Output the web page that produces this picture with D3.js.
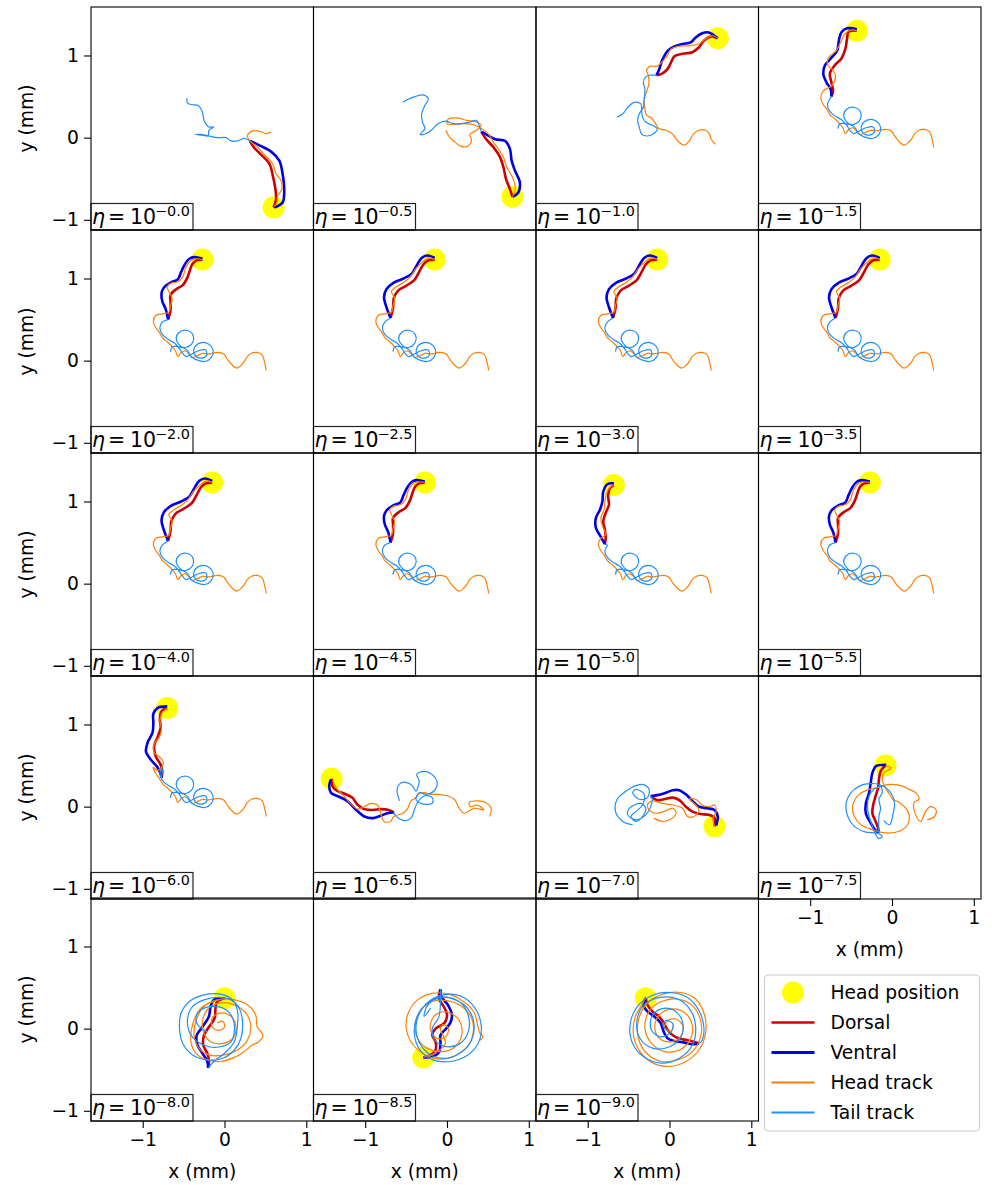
<!DOCTYPE html>
<html>
<head>
<meta charset="utf-8">
<script src="https://cdn.jsdelivr.net/npm/d3@7"></script>
<style>
  body { margin: 0; background: #fff; }
  text { font-family: "DejaVu Sans", sans-serif; }
</style>
</head>
<body>
<svg id="chart" width="992" height="1185"></svg>
<script>
///// *** DATA (mm) *** /////
var etaExps = ['0.0','0.5','1.0','1.5','2.0','2.5','3.0','3.5','4.0','4.5','5.0','5.5','6.0','6.5','7.0','7.5','8.0','8.5','9.0'];
var xTicks = [-1, 0, 1],
    yTicks = [-1, 0, 1];
var legendLabels = ['Head position', 'Dorsal', 'Ventral', 'Head track', 'Tail track'];

// eta = 10^-0.0
var dorsal_00 = [[0.60,-0.85],[0.63,-0.75],[0.62,-0.61],[0.59,-0.46],[0.55,-0.32],[0.44,-0.20],[0.36,-0.12],[0.31,-0.04]];
var ventral_00 = [[0.61,-0.85],[0.71,-0.79],[0.73,-0.65],[0.71,-0.44],[0.67,-0.28],[0.57,-0.17],[0.44,-0.10],[0.36,-0.06],[0.31,-0.04]];
var headTrack_00 = [[0.57,0.07],[0.51,0.05],[0.42,0.08],[0.34,0.08],[0.28,0.02],[0.31,-0.04],[0.40,-0.11],[0.48,-0.20],[0.59,-0.32],[0.63,-0.44],[0.69,-0.52],[0.70,-0.63],[0.65,-0.71],[0.64,-0.79],[0.61,-0.84]];
var tailTrack_00 = [[-0.46,0.48],[-0.45,0.42],[-0.39,0.40],[-0.32,0.39],[-0.27,0.31],[-0.25,0.21],[-0.19,0.13],[-0.13,0.13],[-0.19,0.09],[-0.20,0.02],[-0.27,0.03],[-0.36,0.04],[-0.29,0.04],[-0.19,0.02],[-0.09,0.00],[0.02,0.00],[0.08,-0.04],[0.16,-0.04],[0.24,-0.01],[0.31,-0.04]];

// eta = 10^-0.5
var dorsal_05 = [[0.80,-0.72],[0.77,-0.63],[0.72,-0.50],[0.69,-0.36],[0.65,-0.24],[0.57,-0.12],[0.48,-0.02],[0.42,0.07]];
var ventral_05 = [[0.80,-0.72],[0.87,-0.67],[0.89,-0.54],[0.83,-0.40],[0.79,-0.28],[0.77,-0.14],[0.71,-0.04],[0.59,-0.02],[0.48,0.04],[0.42,0.07]];
var headTrack_05 = [[-0.01,0.09],[0.02,0.02],[0.08,-0.04],[0.16,-0.10],[0.24,-0.11],[0.30,-0.04],[0.28,0.04],[0.36,0.09],[0.42,0.15],[0.36,0.19],[0.24,0.21],[0.12,0.24],[0.02,0.23],[0.00,0.17],[0.08,0.16],[0.20,0.17],[0.32,0.16],[0.42,0.11],[0.51,0.04],[0.57,-0.06],[0.63,-0.14],[0.69,-0.24],[0.73,-0.36],[0.79,-0.46],[0.83,-0.57],[0.83,-0.65],[0.80,-0.72]];
var tailTrack_05 = [[-0.54,0.43],[-0.47,0.47],[-0.39,0.50],[-0.29,0.52],[-0.23,0.47],[-0.27,0.39],[-0.31,0.29],[-0.30,0.19],[-0.27,0.11],[-0.33,0.04],[-0.25,0.05],[-0.17,0.11],[-0.11,0.17],[-0.02,0.20],[0.08,0.17],[0.18,0.17],[0.28,0.19],[0.36,0.21],[0.40,0.13],[0.42,0.07]];

// eta = 10^-1.0
var dorsal_10 = [[0.59,1.21],[0.51,1.23],[0.42,1.18],[0.36,1.10],[0.28,1.04],[0.16,1.02],[0.06,0.99],[0.02,0.92],[-0.02,0.84],[-0.09,0.78],[-0.16,0.76]];
var ventral_10 = [[0.59,1.21],[0.48,1.28],[0.40,1.27],[0.32,1.22],[0.26,1.16],[0.16,1.14],[0.06,1.11],[-0.02,1.06],[-0.09,0.94],[-0.13,0.82],[-0.16,0.76]];
var headTrack_10 = [[0.56,-0.08],[0.51,-0.02],[0.49,0.04],[0.44,0.09],[0.36,0.09],[0.29,0.04],[0.25,-0.03],[0.18,-0.09],[0.10,-0.04],[0.04,0.04],[-0.04,0.09],[-0.13,0.11],[-0.17,0.17],[-0.22,0.24],[-0.28,0.27],[-0.30,0.35],[-0.31,0.45],[-0.29,0.53],[-0.27,0.59],[-0.25,0.67],[-0.26,0.76],[-0.28,0.82],[-0.23,0.87],[-0.15,0.87],[-0.04,0.98],[0.02,1.08],[0.10,1.11],[0.24,1.12],[0.36,1.14],[0.44,1.20],[0.53,1.24],[0.59,1.21]];
var tailTrack_10 = [[-0.64,0.25],[-0.57,0.29],[-0.51,0.37],[-0.43,0.43],[-0.35,0.41],[-0.34,0.33],[-0.33,0.25],[-0.29,0.19],[-0.21,0.15],[-0.15,0.11],[-0.19,0.05],[-0.27,0.02],[-0.34,0.04],[-0.37,0.13],[-0.39,0.21],[-0.37,0.29],[-0.32,0.37],[-0.31,0.47],[-0.30,0.59],[-0.32,0.67],[-0.29,0.74],[-0.23,0.76],[-0.16,0.76]];

// shared track history for eta = 10^-1.5 ... 10^-6.0
var baseHeadTrack = [[0.51,-0.12],[0.49,-0.02],[0.46,0.07],[0.40,0.10],[0.33,0.09],[0.27,0.04],[0.25,0.00],[0.20,-0.06],[0.15,-0.09],[0.10,-0.06],[0.04,0.01],[-0.01,0.08],[-0.08,0.10],[-0.15,0.09],[-0.21,0.08],[-0.27,0.09],[-0.33,0.06],[-0.39,0.04],[-0.43,0.08],[-0.48,0.12],[-0.53,0.10],[-0.57,0.05],[-0.60,0.12],[-0.64,0.17],[-0.70,0.23],[-0.76,0.28],[-0.80,0.35],[-0.84,0.40],[-0.87,0.48]];
var baseTailTrack = [[-0.66,0.11],[-0.64,0.17],[-0.57,0.17],[-0.47,0.16],[-0.39,0.22],[-0.39,0.32],[-0.47,0.37],[-0.56,0.34],[-0.59,0.26],[-0.54,0.18],[-0.45,0.12],[-0.41,0.05],[-0.34,0.01],[-0.24,-0.01],[-0.16,0.04],[-0.14,0.13],[-0.19,0.20],[-0.28,0.22],[-0.36,0.17],[-0.37,0.08],[-0.30,0.03],[-0.22,0.06],[-0.23,0.13],[-0.32,0.12],[-0.40,0.08],[-0.47,0.05],[-0.52,0.10],[-0.56,0.16],[-0.62,0.22],[-0.69,0.26],[-0.76,0.32],[-0.79,0.40],[-0.76,0.47]];

// body shape seen at eta = 10^-1.5
var dorsal_B = [[-0.43,1.30],[-0.53,1.29],[-0.55,1.20],[-0.57,1.08],[-0.62,0.96],[-0.70,0.88],[-0.76,0.78],[-0.74,0.67],[-0.72,0.57],[-0.74,0.50]];
var ventral_B = [[-0.43,1.32],[-0.55,1.33],[-0.62,1.28],[-0.65,1.18],[-0.67,1.06],[-0.75,0.96],[-0.82,0.88],[-0.84,0.78],[-0.80,0.67],[-0.75,0.59],[-0.74,0.50]];
var headEnd_B = [[-0.84,0.57],[-0.74,0.63],[-0.69,0.74],[-0.72,0.82],[-0.79,0.89],[-0.77,0.98],[-0.68,1.06],[-0.62,1.18],[-0.57,1.27],[-0.49,1.31],[-0.43,1.30]];

// body shape seen at eta = 10^-2.0, 10^-4.5, 10^-5.5
var dorsal_A = [[-0.27,1.23],[-0.34,1.22],[-0.39,1.18],[-0.42,1.11],[-0.45,1.02],[-0.51,0.92],[-0.59,0.87],[-0.66,0.80],[-0.66,0.72],[-0.66,0.61],[-0.69,0.50]];
var ventral_A = [[-0.27,1.24],[-0.37,1.26],[-0.43,1.24],[-0.48,1.18],[-0.53,1.08],[-0.57,0.99],[-0.66,0.95],[-0.74,0.89],[-0.77,0.82],[-0.76,0.72],[-0.72,0.63],[-0.69,0.50]];
var headEnd_A = [[-0.84,0.55],[-0.76,0.57],[-0.68,0.59],[-0.66,0.67],[-0.64,0.76],[-0.68,0.84],[-0.70,0.90],[-0.66,0.94],[-0.57,0.96],[-0.51,1.02],[-0.47,1.14],[-0.41,1.22],[-0.33,1.24],[-0.27,1.23]];

// body shape seen at eta = 10^-2.5 ... 10^-4.0
var dorsal_E = [[-0.15,1.23],[-0.23,1.22],[-0.29,1.17],[-0.34,1.08],[-0.40,0.98],[-0.50,0.91],[-0.60,0.85],[-0.65,0.76],[-0.66,0.64],[-0.69,0.52]];
var ventral_E = [[-0.15,1.25],[-0.24,1.28],[-0.31,1.25],[-0.37,1.16],[-0.43,1.06],[-0.53,1.00],[-0.65,0.95],[-0.74,0.87],[-0.77,0.77],[-0.74,0.65],[-0.69,0.52]];
var headEnd_E = [[-0.84,0.55],[-0.76,0.57],[-0.68,0.59],[-0.66,0.67],[-0.64,0.76],[-0.68,0.84],[-0.62,0.90],[-0.53,0.95],[-0.45,1.02],[-0.38,1.12],[-0.30,1.20],[-0.22,1.25],[-0.15,1.23]];

// body shape seen at eta = 10^-5.0
var dorsal_C = [[-0.68,1.20],[-0.73,1.16],[-0.75,1.06],[-0.74,0.96],[-0.78,0.86],[-0.81,0.76],[-0.79,0.66],[-0.78,0.56],[-0.79,0.48]];
var ventral_C = [[-0.68,1.22],[-0.76,1.21],[-0.81,1.12],[-0.82,1.00],[-0.85,0.90],[-0.90,0.80],[-0.90,0.68],[-0.84,0.57],[-0.79,0.48]];
var headEnd_C = [[-0.84,0.55],[-0.78,0.60],[-0.82,0.70],[-0.84,0.80],[-0.80,0.90],[-0.79,1.00],[-0.77,1.10],[-0.72,1.18],[-0.68,1.20]];

// body shape seen at eta = 10^-6.0
var dorsal_D = [[-0.70,1.20],[-0.77,1.16],[-0.79,1.06],[-0.78,0.96],[-0.82,0.84],[-0.86,0.74],[-0.84,0.61],[-0.78,0.51],[-0.76,0.43],[-0.77,0.35]];
var ventral_D = [[-0.70,1.22],[-0.82,1.20],[-0.87,1.13],[-0.87,1.02],[-0.88,0.90],[-0.94,0.78],[-0.96,0.67],[-0.90,0.57],[-0.82,0.48],[-0.78,0.40],[-0.77,0.35]];
var headEnd_D = [[-0.82,0.44],[-0.76,0.49],[-0.75,0.55],[-0.80,0.61],[-0.86,0.66],[-0.86,0.76],[-0.80,0.84],[-0.77,0.94],[-0.79,1.04],[-0.77,1.13],[-0.70,1.20]];

// eta = 10^-6.5
var dorsal_65 = [[-1.41,0.34],[-1.40,0.25],[-1.34,0.19],[-1.26,0.16],[-1.16,0.11],[-1.09,0.02],[-1.01,-0.03],[-0.91,-0.04],[-0.81,-0.03],[-0.71,-0.04],[-0.65,-0.07]];
var ventral_65 = [[-1.42,0.33],[-1.44,0.25],[-1.42,0.17],[-1.32,0.12],[-1.22,0.07],[-1.11,-0.04],[-1.01,-0.12],[-0.91,-0.14],[-0.81,-0.11],[-0.73,-0.08],[-0.65,-0.07]];
var headTrack_65 = [[0.52,-0.12],[0.54,-0.02],[0.47,0.05],[0.39,0.07],[0.27,0.05],[0.29,0.00],[0.37,0.02],[0.45,-0.04],[0.33,-0.02],[0.21,-0.08],[0.15,-0.02],[0.09,0.09],[0.01,0.13],[-0.12,0.15],[-0.20,0.15],[-0.28,0.17],[-0.34,0.16],[-0.38,0.11],[-0.44,0.07],[-0.48,-0.02],[-0.54,-0.08],[-0.65,-0.12],[-0.69,-0.18],[-0.77,-0.18],[-0.81,-0.08],[-0.85,0.02],[-0.93,0.04],[-1.01,0.00],[-1.09,-0.03],[-1.18,0.04],[-1.26,0.13],[-1.34,0.21],[-1.40,0.32]];
var tailTrack_65 = [[-0.58,0.07],[-0.61,0.21],[-0.56,0.29],[-0.48,0.29],[-0.42,0.25],[-0.38,0.19],[-0.34,0.31],[-0.37,0.39],[-0.28,0.43],[-0.18,0.39],[-0.12,0.29],[-0.16,0.19],[-0.26,0.15],[-0.34,0.17],[-0.38,0.09],[-0.32,0.04],[-0.18,0.04],[-0.18,0.11],[-0.28,0.13],[-0.36,0.05],[-0.40,-0.04],[-0.44,-0.14],[-0.52,-0.17],[-0.63,-0.11],[-0.65,-0.07]];

// eta = 10^-7.0
var dorsal_70 = [[0.55,-0.24],[0.55,-0.14],[0.48,-0.10],[0.38,-0.09],[0.28,-0.06],[0.20,0.00],[0.12,0.08],[0.04,0.11],[-0.07,0.09],[-0.15,0.08],[-0.23,0.13]];
var ventral_70 = [[0.57,-0.23],[0.59,-0.12],[0.55,-0.04],[0.46,-0.02],[0.36,0.00],[0.28,0.07],[0.20,0.15],[0.12,0.20],[0.04,0.20],[-0.07,0.16],[-0.15,0.14],[-0.23,0.13]];
var headTrack_70 = [[-0.19,-0.14],[-0.09,-0.18],[0.00,-0.16],[0.08,-0.08],[0.04,-0.02],[-0.07,-0.06],[-0.17,-0.08],[-0.25,-0.04],[-0.27,0.02],[-0.21,0.07],[-0.09,0.04],[0.04,0.02],[0.16,-0.02],[0.22,-0.12],[0.30,-0.12],[0.36,-0.04],[0.30,0.04],[0.24,0.09],[0.32,0.09],[0.40,0.02],[0.48,0.00],[0.55,0.02],[0.57,-0.06],[0.53,-0.14],[0.55,-0.24]];
var tailTrack_70 = [[-0.45,-0.22],[-0.57,-0.18],[-0.66,-0.06],[-0.64,0.09],[-0.53,0.19],[-0.43,0.25],[-0.33,0.27],[-0.25,0.21],[-0.27,0.11],[-0.37,0.09],[-0.45,0.17],[-0.41,0.21],[-0.31,0.15],[-0.33,0.02],[-0.41,-0.06],[-0.47,-0.12],[-0.41,-0.18],[-0.33,-0.12],[-0.29,-0.02],[-0.35,0.04],[-0.49,-0.02],[-0.51,-0.10],[-0.41,-0.16],[-0.29,-0.10],[-0.23,0.00],[-0.21,0.09],[-0.23,0.13]];

// eta = 10^-7.5
var dorsal_75 = [[-0.08,0.50],[-0.14,0.43],[-0.16,0.33],[-0.17,0.23],[-0.20,0.13],[-0.23,0.02],[-0.24,-0.08],[-0.20,-0.18],[-0.17,-0.26],[-0.16,-0.32]];
var ventral_75 = [[-0.07,0.51],[-0.20,0.49],[-0.24,0.41],[-0.26,0.29],[-0.28,0.17],[-0.32,0.04],[-0.32,-0.08],[-0.26,-0.20],[-0.20,-0.29],[-0.16,-0.32]];
var headTrack_75 = [[0.43,-0.16],[0.52,-0.12],[0.54,-0.04],[0.47,0.00],[0.41,-0.06],[0.35,-0.18],[0.29,-0.10],[0.27,0.05],[0.33,0.09],[0.29,0.17],[0.21,0.21],[0.13,0.25],[-0.03,0.27],[-0.18,0.23],[-0.28,0.21],[-0.40,0.15],[-0.48,0.02],[-0.46,-0.12],[-0.38,-0.22],[-0.24,-0.28],[-0.08,-0.32],[0.09,-0.30],[0.19,-0.22],[0.21,-0.10],[0.17,-0.02],[0.09,0.05],[0.01,0.09],[-0.03,0.15],[-0.08,0.23],[-0.12,0.33],[-0.10,0.41],[-0.01,0.47],[-0.08,0.50]];
var tailTrack_75 = [[-0.10,-0.17],[-0.03,-0.22],[0.01,-0.10],[0.03,0.05],[-0.03,0.19],[-0.16,0.27],[-0.28,0.28],[-0.40,0.25],[-0.50,0.17],[-0.56,0.05],[-0.54,-0.12],[-0.46,-0.24],[-0.32,-0.31],[-0.20,-0.32],[-0.12,-0.36],[-0.16,-0.39],[-0.20,-0.34],[-0.24,-0.24],[-0.28,-0.12],[-0.30,0.00],[-0.28,0.13],[-0.22,0.21],[-0.14,0.25],[-0.12,0.17],[-0.16,0.09],[-0.14,-0.02],[-0.16,-0.12],[-0.16,-0.32]];

// eta = 10^-8.0
var dorsal_80 = [[0.00,0.37],[-0.09,0.33],[-0.11,0.25],[-0.12,0.13],[-0.19,0.02],[-0.25,-0.08],[-0.26,-0.20],[-0.21,-0.30],[-0.19,-0.40],[-0.20,-0.48]];
var ventral_80 = [[0.00,0.37],[-0.13,0.35],[-0.17,0.27],[-0.19,0.15],[-0.27,0.02],[-0.34,-0.08],[-0.33,-0.20],[-0.27,-0.30],[-0.21,-0.40],[-0.20,-0.48]];
var headTrack_80 = [[-0.09,0.07],[-0.02,0.09],[0.00,0.02],[-0.07,-0.02],[-0.15,0.02],[-0.15,0.13],[-0.05,0.19],[0.08,0.15],[0.14,0.02],[0.10,-0.12],[-0.02,-0.18],[-0.17,-0.16],[-0.25,-0.06],[-0.27,0.09],[-0.21,0.23],[-0.07,0.31],[0.12,0.29],[0.26,0.19],[0.32,0.05],[0.28,-0.14],[0.16,-0.26],[0.00,-0.32],[-0.19,-0.32],[-0.31,-0.24],[-0.37,-0.10],[-0.35,0.09],[-0.25,0.27],[-0.09,0.35],[0.12,0.35],[0.28,0.29],[0.38,0.17],[0.40,0.02],[0.47,-0.08],[0.42,-0.16],[0.34,-0.20],[0.24,-0.28],[0.12,-0.35],[-0.05,-0.40],[-0.21,-0.38],[-0.35,-0.30],[-0.41,-0.16],[-0.39,0.05],[-0.29,0.25],[-0.13,0.33],[0.00,0.37]];
var tailTrack_80 = [[-0.21,-0.04],[-0.33,0.05],[-0.34,0.17],[-0.25,0.25],[-0.11,0.27],[0.02,0.23],[0.10,0.13],[0.12,-0.04],[0.08,-0.16],[-0.05,-0.22],[-0.19,-0.22],[-0.33,-0.16],[-0.43,-0.04],[-0.45,0.13],[-0.39,0.27],[-0.25,0.35],[-0.07,0.38],[0.08,0.35],[0.18,0.25],[0.22,0.09],[0.20,-0.12],[0.12,-0.26],[-0.02,-0.36],[-0.21,-0.38],[-0.39,-0.32],[-0.51,-0.18],[-0.55,0.00],[-0.53,0.19],[-0.43,0.33],[-0.25,0.41],[-0.05,0.42],[0.10,0.35],[0.16,0.21],[0.16,0.05],[0.12,-0.16],[0.00,-0.30],[-0.13,-0.40],[-0.20,-0.48]];

// eta = 10^-8.5
var dorsal_85 = [[-0.29,-0.35],[-0.20,-0.32],[-0.14,-0.26],[-0.14,-0.16],[-0.18,-0.08],[-0.14,0.00],[-0.03,0.07],[0.00,0.17],[-0.04,0.27],[-0.10,0.37],[-0.08,0.48]];
var ventral_85 = [[-0.29,-0.35],[-0.18,-0.34],[-0.10,-0.29],[-0.08,-0.18],[-0.08,-0.08],[-0.03,-0.02],[0.04,0.07],[0.06,0.17],[0.01,0.29],[-0.07,0.39],[-0.08,0.48]];
var headTrack_85 = [[0.40,-0.14],[0.44,-0.10],[0.40,-0.05],[0.38,0.02],[0.33,0.20],[0.20,0.33],[0.02,0.42],[-0.18,0.43],[-0.36,0.35],[-0.47,0.20],[-0.50,0.02],[-0.44,-0.16],[-0.30,-0.30],[-0.10,-0.37],[0.10,-0.33],[0.25,-0.22],[0.32,-0.05],[0.30,0.13],[0.18,0.27],[0.00,0.34],[-0.18,0.33],[-0.32,0.22],[-0.39,0.05],[-0.36,-0.12],[-0.24,-0.24],[-0.06,-0.28],[0.10,-0.22],[0.18,-0.08],[0.16,0.08],[0.06,0.18],[-0.08,0.20],[-0.18,0.12],[-0.20,-0.02],[-0.12,-0.12],[-0.02,-0.10],[0.02,0.00],[-0.05,0.05],[-0.08,0.00],[-0.02,-0.18],[-0.15,-0.30],[-0.29,-0.35]];
var tailTrack_85 = [[-0.20,0.25],[-0.28,0.15],[-0.24,0.28],[-0.10,0.38],[0.08,0.36],[0.25,0.25],[0.33,0.06],[0.30,-0.14],[0.18,-0.28],[0.00,-0.36],[-0.18,-0.33],[-0.32,-0.20],[-0.38,0.00],[-0.33,0.20],[-0.18,0.36],[0.02,0.42],[0.22,0.37],[0.36,0.22],[0.42,0.02],[0.38,-0.18],[0.24,-0.33],[0.04,-0.40],[-0.17,-0.38],[-0.33,-0.26],[-0.40,-0.06],[-0.36,0.16],[-0.22,0.32],[-0.02,0.38],[0.16,0.32],[0.26,0.16],[0.26,-0.04],[0.16,-0.18],[0.00,-0.22],[-0.14,-0.15],[-0.18,0.00],[-0.10,0.14],[-0.08,0.30],[-0.08,0.48]];

// eta = 10^-9.0
var dorsal_90 = [[-0.29,0.37],[-0.27,0.29],[-0.21,0.21],[-0.13,0.15],[-0.07,0.07],[-0.02,-0.02],[0.04,-0.08],[0.12,-0.12],[0.22,-0.14],[0.30,-0.16],[0.36,-0.18]];
var ventral_90 = [[-0.29,0.37],[-0.32,0.29],[-0.27,0.21],[-0.19,0.15],[-0.11,0.07],[-0.07,-0.04],[-0.02,-0.12],[0.06,-0.15],[0.18,-0.17],[0.28,-0.19],[0.36,-0.18]];
var headTrack_90 = [[0.05,0.05],[0.02,-0.03],[-0.06,0.00],[-0.03,0.09],[0.07,0.12],[0.16,0.04],[0.14,-0.09],[0.02,-0.16],[-0.12,-0.12],[-0.18,0.02],[-0.12,0.17],[0.03,0.24],[0.19,0.19],[0.28,0.04],[0.25,-0.14],[0.12,-0.26],[-0.06,-0.28],[-0.22,-0.18],[-0.30,0.00],[-0.25,0.21],[-0.10,0.33],[0.10,0.36],[0.28,0.28],[0.38,0.10],[0.38,-0.10],[0.28,-0.28],[0.10,-0.38],[-0.10,-0.40],[-0.28,-0.30],[-0.38,-0.12],[-0.38,0.10],[-0.28,0.30],[-0.08,0.42],[0.14,0.44],[0.32,0.36],[0.43,0.16],[0.44,-0.06],[0.36,-0.26],[0.20,-0.40],[0.00,-0.46],[-0.20,-0.42],[-0.36,-0.28],[-0.44,-0.08],[-0.42,0.14],[-0.32,0.32],[-0.29,0.39]];
var tailTrack_90 = [[-0.02,-0.02],[-0.08,0.04],[-0.04,0.10],[0.04,0.06],[0.02,-0.04],[-0.10,-0.10],[-0.22,-0.02],[-0.22,0.14],[-0.10,0.24],[0.06,0.22],[0.16,0.08],[0.14,-0.10],[0.00,-0.22],[-0.20,-0.24],[-0.36,-0.12],[-0.40,0.08],[-0.32,0.28],[-0.12,0.38],[0.10,0.36],[0.26,0.22],[0.32,0.02],[0.28,-0.20],[0.12,-0.36],[-0.10,-0.42],[-0.32,-0.34],[-0.46,-0.16],[-0.48,0.06],[-0.40,0.26],[-0.22,0.40],[0.00,0.44],[0.22,0.38],[0.36,0.22],[0.42,0.02],[0.40,-0.14],[0.36,-0.18]];

///// *** PANEL TABLE *** /////
function ownPanel(dorsal, ventral, headTrack, tailTrack){
  return {dorsal: dorsal, ventral: ventral, headTrack: headTrack, tailTrack: tailTrack};
}
function sharedPanel(dorsal, ventral, headEnd){
  //same earlier history, only the last stretch differs
  return {
    dorsal: dorsal,
    ventral: ventral,
    headTrack: baseHeadTrack.concat(headEnd),
    tailTrack: baseTailTrack.concat([dorsal[dorsal.length - 1]])
  };
}

var panels = [
  ownPanel(dorsal_00, ventral_00, headTrack_00, tailTrack_00),
  ownPanel(dorsal_05, ventral_05, headTrack_05, tailTrack_05),
  ownPanel(dorsal_10, ventral_10, headTrack_10, tailTrack_10),
  sharedPanel(dorsal_B, ventral_B, headEnd_B),
  sharedPanel(dorsal_A, ventral_A, headEnd_A),
  sharedPanel(dorsal_E, ventral_E, headEnd_E),
  sharedPanel(dorsal_E, ventral_E, headEnd_E),
  sharedPanel(dorsal_E, ventral_E, headEnd_E),
  sharedPanel(dorsal_E, ventral_E, headEnd_E),
  sharedPanel(dorsal_A, ventral_A, headEnd_A),
  sharedPanel(dorsal_C, ventral_C, headEnd_C),
  sharedPanel(dorsal_A, ventral_A, headEnd_A),
  sharedPanel(dorsal_D, ventral_D, headEnd_D),
  ownPanel(dorsal_65, ventral_65, headTrack_65, tailTrack_65),
  ownPanel(dorsal_70, ventral_70, headTrack_70, tailTrack_70),
  ownPanel(dorsal_75, ventral_75, headTrack_75, tailTrack_75),
  ownPanel(dorsal_80, ventral_80, headTrack_80, tailTrack_80),
  ownPanel(dorsal_85, ventral_85, headTrack_85, tailTrack_85),
  ownPanel(dorsal_90, ventral_90, headTrack_90, tailTrack_90)
];

///// *** LAYOUT *** /////
var colLeft = [91, 313.5, 536, 758.5],
    rowTop = [7, 230, 453, 676, 898],
    panelW = 222.5,
    panelH = 223,
    fontSize = 18.7,
    headColor = '#ffff00',
    dorsalColor = '#cc0000',
    ventralColor = '#0000e6',
    headTrackColor = '#ff7f00',
    tailTrackColor = '#1e8fff';

var x = d3.scaleLinear().domain([-1.632, 1.088]).range([0, panelW]);
var y = d3.scaleLinear().domain([-1.124, 1.59]).range([panelH, 0]);

var line = d3.line()
  .x(function(d) { return x(d[0]); })
  .y(function(d) { return y(d[1]); })
  .curve(d3.curveCatmullRom.alpha(0.5));

var svg = d3.select('#chart');
svg.append('rect').attr('width', 992).attr('height', 1185).attr('fill', '#fff');

var defs = svg.append('defs');
defs.append('clipPath').attr('id', 'panel-clip')
  .append('rect').attr('width', panelW).attr('height', panelH);

function fmt(v){ return v < 0 ? '\u2212' + Math.abs(v) : String(v); }

panels.forEach(function(p, i){
  var row = Math.floor(i / 4),
      col = i % 4,
      g = svg.append('g').attr('transform', 'translate(' + colLeft[col] + ',' + rowTop[row] + ')');

  var plot = g.append('g').attr('clip-path', 'url(#panel-clip)');

  //head marker first, lines drawn over it
  plot.append('circle')
    .attr('cx', x(p.dorsal[0][0]))
    .attr('cy', y(p.dorsal[0][1]))
    .attr('r', 11)
    .attr('fill', headColor);

  plot.append('path').datum(p.dorsal)
    .attr('d', line).attr('fill', 'none')
    .attr('stroke', dorsalColor).attr('stroke-width', 2.6);
  plot.append('path').datum(p.ventral)
    .attr('d', line).attr('fill', 'none')
    .attr('stroke', ventralColor).attr('stroke-width', 2.6);
  plot.append('path').datum(p.headTrack)
    .attr('d', line).attr('fill', 'none')
    .attr('stroke', headTrackColor).attr('stroke-width', 1.2);
  plot.append('path').datum(p.tailTrack)
    .attr('d', line).attr('fill', 'none')
    .attr('stroke', tailTrackColor).attr('stroke-width', 1.2);

  //eta label box
  var lab = g.append('g').attr('transform', 'translate(0,' + panelH + ')');
  lab.append('rect')
    .attr('x', 0).attr('y', -26.5)
    .attr('width', 102).attr('height', 26.5)
    .attr('fill', '#fff').attr('stroke', '#222').attr('stroke-width', 1.2);
  lab.append('text').attr('x', 1).attr('y', -6.3)
    .attr('font-size', 20.5).attr('font-style', 'italic').text('\u03b7');
  lab.append('text').attr('x', 17).attr('y', -6.3)
    .attr('font-size', 20.5).text('=');
  lab.append('text').attr('x', 39).attr('y', -6.3)
    .attr('font-size', 20.5).text('10');
  lab.append('text').attr('x', 64).attr('y', -13.8)
    .attr('font-size', 14.4).text('\u2212' + etaExps[i]);

  //frame
  g.append('rect')
    .attr('width', panelW).attr('height', panelH)
    .attr('fill', 'none').attr('stroke', '#000').attr('stroke-width', 1.1);

  //y axis on first column
  if (col === 0) {
    var yAxis = d3.axisLeft(y).tickValues(yTicks).tickSize(7).tickPadding(5).tickFormat(fmt);
    var ya = g.append('g').call(yAxis);
    ya.select('.domain').remove();
    ya.selectAll('text').attr('font-size', fontSize).attr('font-family', '"DejaVu Sans", sans-serif').attr('fill', '#000');
    ya.selectAll('line').attr('stroke', '#000').attr('stroke-width', 1.1);
    g.append('text')
      .attr('transform', 'translate(' + (32.5 - colLeft[0]) + ',' + (panelH / 2) + ') rotate(-90)')
      .attr('text-anchor', 'middle')
      .attr('font-size', fontSize)
      .text('y (mm)');
  }

  //x axis where nothing sits below
  if (row === 4 || (row === 3 && col === 3)) {
    var xAxis = d3.axisBottom(x).tickValues(xTicks).tickSize(7).tickPadding(5).tickFormat(fmt);
    var xa = g.append('g').attr('transform', 'translate(0,' + panelH + ')').call(xAxis);
    xa.select('.domain').remove();
    xa.selectAll('text').attr('font-size', fontSize).attr('font-family', '"DejaVu Sans", sans-serif').attr('fill', '#000');
    xa.selectAll('line').attr('stroke', '#000').attr('stroke-width', 1.1);
    g.append('text')
      .attr('x', panelW / 2)
      .attr('y', panelH + 57)
      .attr('text-anchor', 'middle')
      .attr('font-size', fontSize)
      .text('x (mm)');
  }
});

///// *** LEGEND *** /////
var legend = svg.append('g').attr('transform', 'translate(764.5,975)');
legend.append('rect')
  .attr('width', 215).attr('height', 156)
  .attr('rx', 4).attr('ry', 4)
  .attr('fill', '#fff').attr('stroke', '#cccccc').attr('stroke-width', 1.1);

var legendStyles = [
  {type: 'dot', color: headColor},
  {type: 'line', color: dorsalColor, width: 2.6},
  {type: 'line', color: ventralColor, width: 2.8},
  {type: 'line', color: headTrackColor, width: 2},
  {type: 'line', color: tailTrackColor, width: 2}
];

legendLabels.forEach(function(label, i){
  var cy = 17.5 + i * 30,
      s = legendStyles[i];
  if (s.type === 'dot') {
    legend.append('circle').attr('cx', 28.5).attr('cy', cy).attr('r', 11).attr('fill', s.color);
  } else {
    legend.append('line')
      .attr('x1', 7).attr('x2', 50)
      .attr('y1', cy).attr('y2', cy)
      .attr('stroke', s.color).attr('stroke-width', s.width);
  }
  legend.append('text')
    .attr('x', 66).attr('y', cy + 6.8)
    .attr('font-size', fontSize)
    .text(label);
});
</script>
</body>
</html>
